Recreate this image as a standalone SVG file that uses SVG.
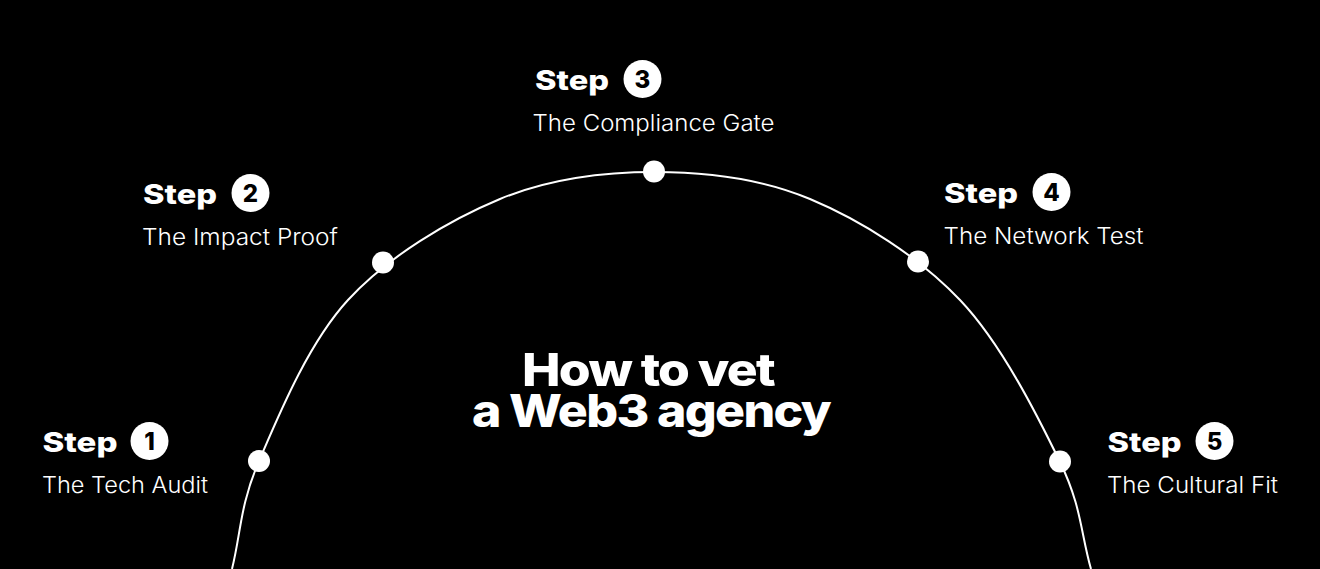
<svg xmlns="http://www.w3.org/2000/svg" width="1320" height="569" viewBox="0 0 1320 569">
  <style>
    .step { font-family: Inter, "Liberation Sans", sans-serif; font-weight: 800; font-size: 27.5px; fill: #fff; }
    .num { font-family: Inter, "Liberation Sans", sans-serif; font-weight: 800; font-size: 24px; fill: #000; text-anchor: middle; }
    .sub { font-family: Inter, "Liberation Sans", sans-serif; font-weight: 300; font-size: 22.5px; fill: #fff; }
    .title { font-family: Inter, "Liberation Sans", sans-serif; font-weight: 800; font-size: 45px; fill: #fff; text-anchor: middle; letter-spacing: -1.5px; }
    .badge { fill: #fff; }
    .dot { fill: #fff; }
    .arc { fill: none; stroke: #fff; stroke-width: 2; }
  </style>
  <rect x="0" y="0" width="1320" height="569" fill="#000"/>
  <g id="connectors">
    <path class="arc" d="M232,569 C241,533 239.7,505.8 259,461 C278.3,416.2 307.8,343.7 348,300 C388.2,256.3 448.8,220.3 500,199 C551.2,177.7 603.3,172 655,172 C706.7,172 759.2,177.7 810,199 C860.8,220.3 918.3,256.2 960,300 C1001.7,343.8 1038.2,417.2 1060,462 C1081.8,506.8 1080.7,533.3 1091,569"/>
  </g>
  <g id="title">
    <text class="title" x="648" y="386" textLength="252" lengthAdjust="spacingAndGlyphs">How to vet</text>
    <text class="title" x="651" y="427" textLength="358" lengthAdjust="spacingAndGlyphs">a Web3 agency</text>
  </g>
  <g id="step1">
    <circle class="dot" cx="259" cy="461" r="11"/>
    <text class="step" x="42.5" y="452" textLength="75" lengthAdjust="spacingAndGlyphs">Step</text>
    <circle class="badge" cx="149.5" cy="441" r="19"/>
    <text class="num" x="149.5" y="449.5">1</text>
    <text class="sub" x="42" y="493" textLength="166" lengthAdjust="spacingAndGlyphs">The Tech Audit</text>
  </g>
  <g id="step2">
    <circle class="dot" cx="383" cy="262.5" r="11"/>
    <text class="step" x="143" y="204" textLength="74" lengthAdjust="spacingAndGlyphs">Step</text>
    <circle class="badge" cx="250.5" cy="193" r="19"/>
    <text class="num" x="250.5" y="201.5">2</text>
    <text class="sub" x="142" y="245" textLength="196" lengthAdjust="spacingAndGlyphs">The Impact Proof</text>
  </g>
  <g id="step3">
    <circle class="dot" cx="654" cy="171.5" r="11"/>
    <text class="step" x="535" y="90" textLength="74" lengthAdjust="spacingAndGlyphs">Step</text>
    <circle class="badge" cx="642.5" cy="79" r="19"/>
    <text class="num" x="642.5" y="87.5">3</text>
    <text class="sub" x="532.5" y="131" textLength="242" lengthAdjust="spacingAndGlyphs">The Compliance Gate</text>
  </g>
  <g id="step4">
    <circle class="dot" cx="918" cy="261.5" r="11"/>
    <text class="step" x="944" y="203" textLength="74" lengthAdjust="spacingAndGlyphs">Step</text>
    <circle class="badge" cx="1051.5" cy="192" r="19"/>
    <text class="num" x="1051.5" y="200.5">4</text>
    <text class="sub" x="943.5" y="244" textLength="200" lengthAdjust="spacingAndGlyphs">The Network Test</text>
  </g>
  <g id="step5">
    <circle class="dot" cx="1060" cy="461.5" r="11"/>
    <text class="step" x="1107.5" y="452" textLength="74" lengthAdjust="spacingAndGlyphs">Step</text>
    <circle class="badge" cx="1214.5" cy="441" r="19"/>
    <text class="num" x="1214.5" y="449.5">5</text>
    <text class="sub" x="1107" y="493" textLength="171" lengthAdjust="spacingAndGlyphs">The Cultural Fit</text>
  </g>
</svg>
